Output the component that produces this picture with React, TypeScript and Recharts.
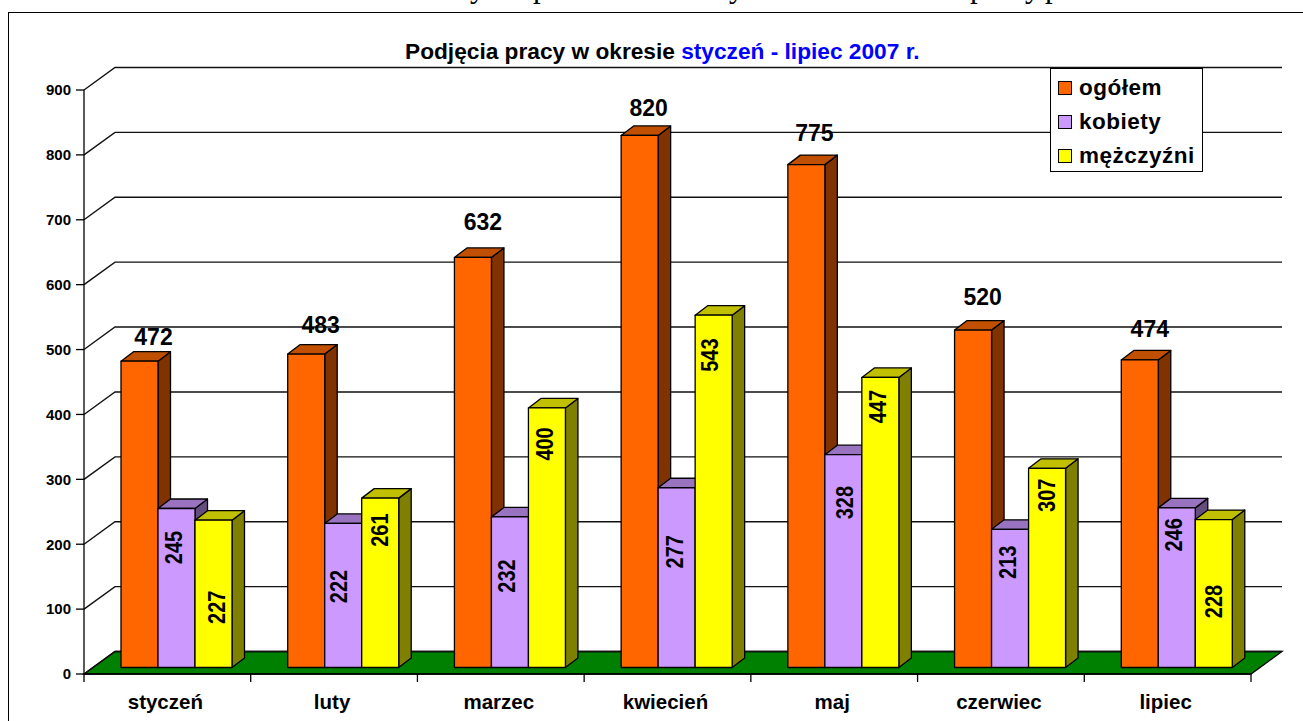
import React from "react";
import { ComposedChart, Bar, XAxis, YAxis, CartesianGrid, Legend, LabelList } from "recharts";

const months = ["styczeń", "luty", "marzec", "kwiecień", "maj", "czerwiec", "lipiec"];
const ogolem = [472, 483, 632, 820, 775, 520, 474];
const kobiety = [245, 222, 232, 277, 328, 213, 246];
const mezczyzni = [227, 261, 400, 543, 447, 307, 228];
const yTicks = [0, 100, 200, 300, 400, 500, 600, 700, 800, 900];

const rows = months.map((name, i) => ({
  name,
  ogolem: ogolem[i],
  kobiety: kobiety[i],
  mezczyzni: mezczyzni[i],
}));

// the data labels were dragged by hand in the original, so each one has its own nudge
const topLabelDx = [14, 14.5, 10, 9, 8, 9.5, 10];
const topLabelUp = [24, 29, 35, 27, 32, 33, 31];
const kobietyDrop = [39, 63, 59, 64, 48, 33, 27];
const kobietyDx = [-2.5, -4, -3, -1.5, 1.5, -2.5, -2.5];
const mezczyzniDrop = [87, 32, 36, 40, 29, 27, 82];
const mezczyzniDx = [3.5, -0.5, -1.5, -4, -2, -0.5, 0.5];

// tails of the cut off heading line above the chart
const clippedLetters: [string, number][] = [
  ["y", 470],
  ["p", 533],
  ["y", 729],
  ["p", 970],
  ["y", 1025],
  ["p", 1045],
];

const FONT = "'Liberation Sans', Arial, sans-serif";
const WIDTH = 1303;
const HEIGHT = 721;
const LEFT = 84;
const RIGHT = 1251;
const BOTTOM = 674;
const BAND = (RIGHT - LEFT) / months.length;
// depth of the fake 3D wall and of the bars
const WALL_X = 31;
const WALL_Y = 22.5;
const BAR_X = 9;
const BAR_Y = 6.5;
const DEPTH_X = 12.5;
const DEPTH_Y = 9.5;

function box(top: string, side: string) {
  return (p: any) => {
    const x = p.x + BAR_X;
    const y = p.y - BAR_Y;
    const r = x + p.width;
    const b = y + p.height;
    return (
      <g stroke="#000" strokeWidth={1.3} strokeLinejoin="round">
        <path d={`M${r},${y} L${r + DEPTH_X},${y - DEPTH_Y} L${r + DEPTH_X},${b - DEPTH_Y} L${r},${b} Z`} fill={side} />
        <path d={`M${x},${y} L${x + DEPTH_X},${y - DEPTH_Y} L${r + DEPTH_X},${y - DEPTH_Y} L${r},${y} Z`} fill={top} />
        <rect x={x} y={y} width={p.width} height={p.height} fill={p.fill} />
      </g>
    );
  };
}

function topLabel(p: any) {
  const cx = p.x + BAR_X + p.width / 2 + topLabelDx[p.index];
  return (
    <text x={cx} y={p.y - BAR_Y - topLabelUp[p.index]} textAnchor="middle" dominantBaseline="central"
      fontFamily={FONT} fontWeight="bold" fontSize={23} fill="#000">
      {p.value}
    </text>
  );
}

function sideLabel(drop: number[], dx: number[]) {
  return (p: any) => {
    const cx = p.x + BAR_X + p.width / 2 + dx[p.index];
    const cy = p.y - BAR_Y + drop[p.index];
    // glyphs in the original are taller than they are wide
    return (
      <text transform={`translate(${cx} ${cy}) rotate(-90) scale(0.87 1)`} textAnchor="middle" dominantBaseline="central"
        fontFamily={FONT} fontWeight="bold" fontSize={23} fill="#000">
        {p.value}
      </text>
    );
  };
}

function wallLine(p: any) {
  const y = p.y1;
  const floor =
    y >= BOTTOM - 1 ? (
      <path
        d={`M${p.x1},${y} L${p.x1 + WALL_X},${y - WALL_Y} L${p.x2 + WALL_X},${y - WALL_Y} L${p.x2},${y} Z`}
        fill="#008000"
        stroke="#000"
        strokeWidth={1.3}
      />
    ) : null;
  return (
    <g key={p.key}>
      {floor}
      <path
        d={`M${p.x1},${y} L${p.x1 + WALL_X},${y - WALL_Y} L${p.x2 + WALL_X},${y - WALL_Y}`}
        fill="none"
        stroke="#111"
        strokeWidth={1.4}
      />
    </g>
  );
}

function monthTick(p: any) {
  const right = p.x + BAND / 2;
  return (
    <g>
      {p.index === 0 && <line x1={LEFT} x2={LEFT} y1={BOTTOM} y2={BOTTOM + 8} stroke="#000" strokeWidth={1.3} />}
      <line x1={right} x2={right} y1={BOTTOM} y2={BOTTOM + 8} stroke="#000" strokeWidth={1.3} />
      <text x={p.x - 2} y={709} textAnchor="middle" fontFamily={FONT} fontWeight="bold" fontSize={20.5} fill="#000">
        {p.payload.value}
      </text>
    </g>
  );
}

function legendBox(p: any) {
  return (
    <div
      style={{
        width: 153,
        height: 104,
        boxSizing: "border-box",
        border: "1.5px solid #000",
        background: "#fff",
        padding: "2px 0 0 7px",
        fontFamily: FONT,
        fontWeight: "bold",
        fontSize: 22.5,
        letterSpacing: 0.5,
        color: "#000",
      }}
    >
      {p.payload.map((item: any) => (
        <div key={item.value} style={{ display: "flex", alignItems: "center", height: 34 }}>
          <span
            style={{
              width: 14,
              height: 14,
              boxSizing: "border-box",
              marginRight: 7,
              background: item.color,
              border: "1.3px solid #000",
              flex: "none",
            }}
          />
          {item.value}
        </div>
      ))}
    </div>
  );
}

export default function App() {
  return (
    <div
      style={{
        position: "absolute",
        left: 0,
        top: 0,
        width: WIDTH,
        height: HEIGHT,
        overflow: "hidden",
        background: "#fff",
      }}
    >
      {clippedLetters.map(([ch, x], i) => (
        <span
          key={i}
          style={{
            position: "absolute",
            left: x,
            top: -31,
            fontFamily: "'Liberation Serif', serif",
            fontSize: 31,
            lineHeight: "36px",
            color: "#000",
          }}
        >
          {ch}
        </span>
      ))}
      {/* frame runs off the right and the bottom of the picture */}
      <div
        style={{
          position: "absolute",
          left: 8,
          top: 12,
          width: WIDTH,
          height: HEIGHT,
          borderLeft: "1.5px solid #000",
          borderTop: "1.5px solid #000",
        }}
      />
      <div
        style={{
          position: "absolute",
          left: 405,
          top: 39,
          fontFamily: FONT,
          fontWeight: "bold",
          fontSize: 22.7,
          lineHeight: "24px",
          whiteSpace: "nowrap",
          color: "#000",
        }}
      >
        Podjęcia pracy w okresie <span style={{ color: "#0000ff" }}>styczeń - lipiec 2007 r.</span>
      </div>
      <div style={{ position: "absolute", left: 0, top: 0 }}>
        <ComposedChart
          width={WIDTH}
          height={HEIGHT}
          data={rows}
          barGap={0}
          barSize={37}
          margin={{ top: 90, right: WIDTH - RIGHT, bottom: 0, left: 0 }}
        >
          <CartesianGrid vertical={false} horizontal={wallLine} />
          <XAxis
            dataKey="name"
            height={HEIGHT - BOTTOM}
            axisLine={{ stroke: "#000", strokeWidth: 1.3 }}
            tickLine={false}
            interval={0}
            tick={monthTick}
          />
          <YAxis
            width={LEFT}
            domain={[0, 900]}
            ticks={yTicks}
            interval={0}
            axisLine={{ stroke: "#000", strokeWidth: 1.3 }}
            tickLine={{ stroke: "#000", strokeWidth: 1.3 }}
            tickSize={8}
            tickMargin={5}
            tick={{ fontFamily: FONT, fontWeight: "bold", fontSize: 15, fill: "#000" }}
          />
          <Bar dataKey="ogolem" name="ogółem" fill="#ff6600" isAnimationActive={false} shape={box("#c05000", "#803300")}>
            <LabelList dataKey="ogolem" content={topLabel} />
          </Bar>
          <Bar dataKey="kobiety" name="kobiety" fill="#cc99ff" isAnimationActive={false} shape={box("#9973bf", "#664d80")}>
            <LabelList dataKey="kobiety" content={sideLabel(kobietyDrop, kobietyDx)} />
          </Bar>
          <Bar dataKey="mezczyzni" name="mężczyźni" fill="#ffff00" isAnimationActive={false} shape={box("#c0c000", "#808000")}>
            <LabelList dataKey="mezczyzni" content={sideLabel(mezczyzniDrop, mezczyzniDx)} />
          </Bar>
          <Legend
            layout="vertical"
            align="center"
            verticalAlign="middle"
            itemSorter={null}
            content={legendBox}
            wrapperStyle={{ left: 1050, top: 68, width: 153, height: 104 }}
          />
        </ComposedChart>
      </div>
    </div>
  );
}
